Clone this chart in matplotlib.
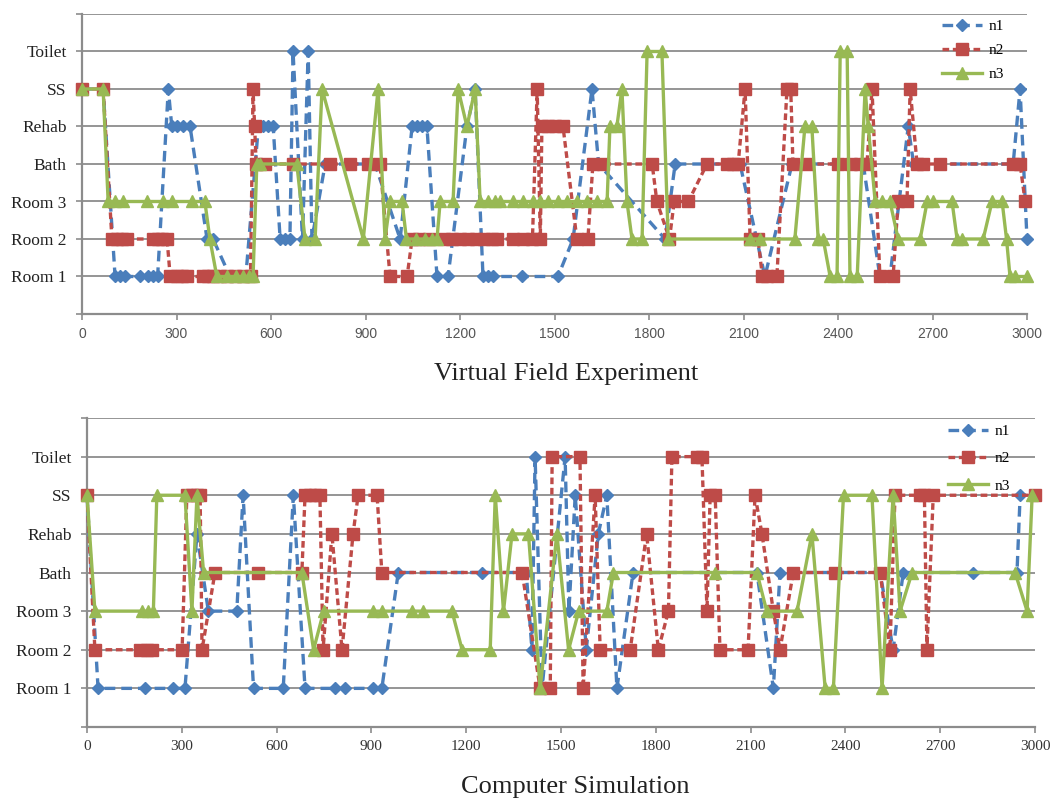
import matplotlib
matplotlib.use("Agg")
import matplotlib.pyplot as plt

# ---------------- data ----------------
room_labels = ["", "Room 1", "Room 2", "Room 3", "Bath", "Rehab", "SS", "Toilet", ""]
x_ticks = list(range(0, 3001, 300))
series_names = ["n1", "n2", "n3"]

# Virtual Field Experiment
vfe_n1_x = [0, 67, 105, 121, 137, 184, 210, 226, 240, 274, 285, 302, 321, 343, 397, 416, 470, 520, 560, 575, 592, 607,
            629, 644, 660, 670, 700, 718, 730, 772, 930, 1010, 1048, 1063, 1079, 1095, 1127, 1162, 1222, 1248, 1273,
            1289, 1305, 1397, 1511, 1559, 1619, 1640, 1851, 1883, 2089, 2168, 2254, 2480, 2533, 2565, 2623, 2640,
            2956, 2978, 3000]
vfe_n1_y = [6, 6, 1, 1, 1, 1, 1, 1, 1, 6, 5, 5, 5, 5, 2, 2, 1, 1, 5, 5, 5, 5,
            2, 2, 2, 7, 2, 7, 2, 4, 4, 2, 5, 5, 5, 5, 1, 1, 5, 6, 1,
            1, 1, 1, 1, 2, 6, 4, 2, 4, 4, 1, 4, 4, 1, 1, 5, 4,
            4, 6, 2]

vfe_n2_x = [0, 67, 95, 111, 127, 143, 225, 240, 255, 270, 280, 300, 318, 333, 384, 400, 416, 438, 460, 485, 510, 535,
            543, 548, 553, 580, 670, 787, 851, 908, 946, 978, 1032, 1048, 1070, 1100, 1150, 1175, 1200, 1225, 1250,
            1275, 1300, 1317, 1368, 1400, 1430, 1445, 1455, 1460, 1480, 1500, 1527, 1571, 1606, 1622, 1654, 1810,
            1825, 1865, 1880, 1925, 1984, 2048, 2067, 2083, 2105, 2121, 2146, 2160, 2175, 2206, 2238, 2250, 2257,
            2300, 2400, 2440, 2470, 2492, 2508, 2533, 2575, 2591, 2619, 2629, 2651, 2670, 2724, 2956, 2978, 2994]
vfe_n2_y = [6, 6, 2, 2, 2, 2, 2, 2, 2, 2, 1, 1, 1, 1, 1, 1, 1, 1, 1, 1, 1, 1,
            6, 5, 4, 4, 4, 4, 4, 4, 4, 1, 1, 2, 2, 2, 2, 2, 2, 2, 2,
            2, 2, 2, 2, 2, 2, 6, 2, 5, 5, 5, 5, 2, 2, 4, 4, 4,
            3, 2, 3, 3, 4, 4, 4, 4, 6, 2, 2, 1, 1, 1, 6, 6, 4,
            4, 4, 4, 4, 4, 6, 1, 1, 3, 3, 6, 4, 4, 4, 4, 4, 3]

vfe_n3_x = [0, 67, 83, 105, 130, 206, 257, 286, 349, 390, 406, 428, 460, 490, 510, 530, 543, 555, 565, 682, 708, 740,
            762, 893, 940, 962, 978, 1016, 1030, 1060, 1090, 1110, 1127, 1137, 1178, 1194, 1222, 1248, 1264, 1290,
            1310, 1327, 1368, 1400, 1432, 1454, 1480, 1510, 1540, 1570, 1603, 1635, 1667, 1676, 1698, 1714, 1730,
            1746, 1778, 1794, 1841, 1861, 2121, 2153, 2263, 2295, 2317, 2337, 2353, 2375, 2397, 2407, 2429, 2438,
            2461, 2486, 2496, 2518, 2540, 2565, 2591, 2661, 2683, 2702, 2762, 2778, 2794, 2861, 2889, 2921, 2935,
            2946, 2962, 3000]
vfe_n3_y = [6, 6, 3, 3, 3, 3, 3, 3, 3, 3, 2, 1, 1, 1, 1, 1, 1, 4, 4, 4, 2, 2,
            6, 2, 6, 2, 3, 3, 2, 2, 2, 2, 2, 3, 3, 6, 5, 6, 3, 3,
            3, 3, 3, 3, 3, 3, 3, 3, 3, 3, 3, 3, 3, 5, 5, 6, 3,
            2, 2, 7, 7, 2, 2, 2, 2, 5, 5, 2, 2, 1, 1, 7, 7, 1,
            1, 6, 5, 3, 3, 3, 2, 2, 3, 3, 3, 2, 2, 2, 3, 3, 2,
            1, 1, 1]

# Computer Simulation
cs_n1_x = [0, 35, 184, 273, 310, 348, 384, 474, 494, 527, 621, 653, 690, 785, 817, 906, 933, 985, 1250, 1390, 1408,
           1418, 1440, 1513, 1525, 1545, 1580, 1618, 1645, 1677, 1728, 2120, 2172, 2193, 2510, 2551, 2583, 2805,
           2943, 2953, 3000]
cs_n1_y = [6, 1, 1, 1, 1, 5, 3, 3, 6, 1, 1, 6, 1, 1, 1, 1, 1, 4, 4, 4, 2,
           7, 1, 7, 3, 6, 2, 5, 6, 1, 4, 4, 1, 4, 4, 2, 4, 4,
           4, 6, 6]

cs_n2_x = [0, 25, 168, 190, 206, 301, 316, 332, 348, 358, 364, 405, 541, 680, 690, 705, 720, 737, 747, 775, 807, 842,
           858, 918, 933, 1377, 1434, 1466, 1472, 1560, 1570, 1608, 1624, 1719, 1771, 1808, 1840, 1851, 1930, 1946,
           1962, 1972, 1988, 2003, 2092, 2114, 2136, 2172, 2193, 2235, 2367, 2510, 2541, 2557, 2636, 2650, 2658,
           2678, 3000]
cs_n2_y = [6, 2, 2, 2, 2, 2, 6, 6, 6, 6, 2, 4, 4, 4, 6, 6, 6, 6, 2, 5, 2, 5,
           6, 6, 4, 4, 1, 1, 7, 7, 1, 6, 2, 2, 5, 2, 3, 7, 7, 7,
           3, 6, 6, 2, 2, 6, 5, 3, 2, 4, 4, 4, 2, 6, 6, 6, 2,
           6, 6]

cs_n3_x = [0, 25, 174, 194, 210, 221, 310, 332, 348, 369, 680, 717, 749, 906, 933, 1029, 1064, 1155, 1187, 1276,
           1292, 1318, 1345, 1397, 1434, 1487, 1524, 1556, 1645, 1666, 1988, 2120, 2151, 2247, 2294, 2336, 2362,
           2394, 2484, 2516, 2551, 2573, 2611, 2937, 2975, 2991]
cs_n3_y = [6, 3, 3, 3, 3, 6, 6, 3, 6, 4, 4, 2, 3, 3, 3, 3, 3, 3, 2, 2,
           6, 3, 5, 5, 1, 5, 2, 3, 3, 4, 4, 4, 3, 3, 5, 1, 1,
           6, 6, 1, 6, 3, 4, 4, 3, 6]

titles = ["Virtual Field Experiment", "Computer Simulation"]

# ---------------- style ----------------
BLUE = "#4A7EBB"
RED = "#BE4B48"
GREEN = "#98B954"
GRID = "#8c8c8c"
SERIF = ["Liberation Serif", "DejaVu Serif"]
SANS = ["Liberation Sans", "DejaVu Sans"]

W, H = 1051, 805
fig = plt.figure(figsize=(W / 100, H / 100), dpi=100)
fig.patch.set_facecolor("white")

ax1 = fig.add_axes([82 / W, 1 - 314 / H, 945 / W, 300 / H])
ax2 = fig.add_axes([87 / W, 1 - 727 / H, 948 / W, 309 / H])

datasets = [
    [(vfe_n1_x, vfe_n1_y), (vfe_n2_x, vfe_n2_y), (vfe_n3_x, vfe_n3_y)],
    [(cs_n1_x, cs_n1_y), (cs_n2_x, cs_n2_y), (cs_n3_x, cs_n3_y)],
]
styles = [
    dict(color=BLUE, lw=2.4, linestyle=(0, (3.2, 1.8)), marker="D", ms=5.8, zorder=3),
    dict(color=RED, lw=2.4, linestyle=(0, (2.0, 1.1)), marker="s", ms=8.3, zorder=4),
    dict(color=GREEN, lw=2.4, linestyle="-", marker="^", ms=8.5, zorder=5),
]

for i, (ax, data) in enumerate(zip([ax1, ax2], datasets)):
    for (xs, ys), st, name in zip(data, styles, series_names):
        ax.plot(xs, ys, label=name, clip_on=False, markeredgecolor=st["color"],
                markerfacecolor=st["color"], **st)
    ax.set_xlim(0, 3000)
    ax.set_ylim(0, 8)
    ax.set_yticks(range(0, 9))
    ax.set_yticklabels(room_labels, fontfamily=SERIF, fontsize=12.5, color="#222222")
    ax.set_xticks(x_ticks)
    if i == 0:
        ax.set_xticklabels([str(t) for t in x_ticks], fontfamily=SANS, fontsize=10, color="#555555")
    else:
        ax.set_xticklabels([str(t) for t in x_ticks], fontfamily=SERIF, fontsize=11, color="#333333")
    ax.yaxis.grid(True, color=GRID, lw=1.3)
    ax.set_axisbelow(True)
    for s in ["top", "right"]:
        ax.spines[s].set_visible(False)
    for s in ["left", "bottom"]:
        ax.spines[s].set_color(GRID)
        ax.spines[s].set_linewidth(1.6)
    ax.tick_params(axis="both", length=4, width=1.2, color=GRID)
    ax.tick_params(axis="y", pad=7)
    ax.tick_params(axis="x", pad=5)

ax1.legend(loc="upper right", bbox_to_anchor=(1012 / W, 1 - 12 / H), bbox_transform=fig.transFigure,
           frameon=False, prop={"family": SERIF, "size": 11}, handlelength=2.6, handletextpad=0.45,
           labelspacing=0.68, borderpad=0)
ax2.legend(loc="upper right", bbox_to_anchor=(1018 / W, 1 - 417 / H), bbox_transform=fig.transFigure,
           frameon=False, prop={"family": SERIF, "size": 11}, handlelength=2.6, handletextpad=0.45,
           labelspacing=0.88, borderpad=0)

fig.text(566 / W, 1 - 374 / H, titles[0], ha="center", va="center", fontfamily=SERIF, fontsize=19, color="#222222")
fig.text(575 / W, 1 - 787 / H, titles[1], ha="center", va="center", fontfamily=SERIF, fontsize=19, color="#222222")

fig.savefig("out.png", dpi=100, facecolor="white")
